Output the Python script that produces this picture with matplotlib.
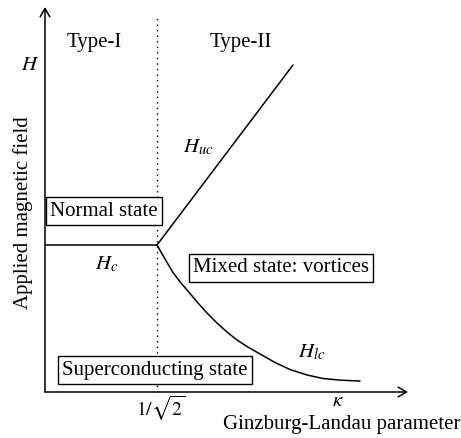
import numpy as np
import matplotlib
matplotlib.use('Agg')
import matplotlib.pyplot as plt

plt.rcParams['font.family'] = 'Liberation Serif'
plt.rcParams['mathtext.fontset'] = 'stix'

# ── Phase boundaries (plot units, origin at axes corner) ──────────────────────
kappa_c = 112          # position of 1/sqrt(2)
Hc = 147               # thermodynamic critical field

hc_x = [0, kappa_c]
hc_y = [Hc, Hc]

huc_x = [kappa_c, 248]
huc_y = [Hc, 327]

hlc_x = [112, 120, 128, 136, 145, 153, 162, 172, 182, 192, 202, 215, 230, 245,
         262, 278, 296, 315]
hlc_y = [147, 133, 119.5, 109, 98.5, 89, 79, 69, 60, 52, 45.5, 38, 29.5, 22.5,
         17, 13.5, 11.8, 11]

FS = 15
BOX = dict(boxstyle='square,pad=0.2', facecolor='white', edgecolor='black', linewidth=1.0)

fig = plt.figure(figsize=(4.61, 4.38), dpi=100)
ax = fig.add_axes([0, 0, 1, 1])
ax.set_xlim(-45, 416)
ax.set_ylim(-46, 392)
ax.axis('off')

# axes with arrow heads
arr = dict(arrowstyle='->,head_length=0.6,head_width=0.35', color='black', lw=1.1,
           shrinkA=0, shrinkB=0)
ax.annotate('', xy=(363, 0), xytext=(0, 0), arrowprops=arr)
ax.annotate('', xy=(0, 385), xytext=(0, 0), arrowprops=arr)

# dotted divider at kappa = 1/sqrt(2)
ax.plot([kappa_c, kappa_c], [0, 374], color='black', lw=1.0, ls=(0, (1, 3)))

line_kw = dict(color='black', lw=1.1, solid_joinstyle='round', solid_capstyle='round')
ax.plot(hc_x, hc_y, **line_kw)
ax.plot(huc_x, huc_y, **line_kw)
ax.plot(hlc_x, hlc_y, **line_kw)

# labels
ax.text(49, 349, 'Type-I', fontsize=FS, ha='center', va='center')
ax.text(196, 349, 'Type-II', fontsize=FS, ha='center', va='center')
ax.text(-15, 327, r'$H$', fontsize=FS, ha='center', va='center')
ax.text(-22, 179, 'Applied magnetic field', fontsize=FS, rotation=90,
        ha='center', va='center')
ax.text(62, 128, r'$H_c$', fontsize=FS, ha='center', va='center')
ax.text(153, 245, r'$H_{uc}$', fontsize=FS, ha='center', va='center')
ax.text(267, 40, r'$H_{lc}$', fontsize=FS, ha='center', va='center')
ax.text(293, -10, r'$\kappa$', fontsize=FS, ha='center', va='center')
ax.text(116, -16, r'$1/\sqrt{2}$', fontsize=14, ha='center', va='center')
ax.text(415, -33, 'Ginzburg-Landau parameter', fontsize=FS, ha='right', va='center')

ax.text(59, 181, 'Normal state', fontsize=FS, ha='center', va='center', bbox=BOX)
ax.text(236, 124, 'Mixed state: vortices', fontsize=FS, ha='center', va='center', bbox=BOX)
ax.text(110, 22, 'Superconducting state', fontsize=FS, ha='center', va='center', bbox=BOX)

fig.savefig('out.png', dpi=100, facecolor='white')
